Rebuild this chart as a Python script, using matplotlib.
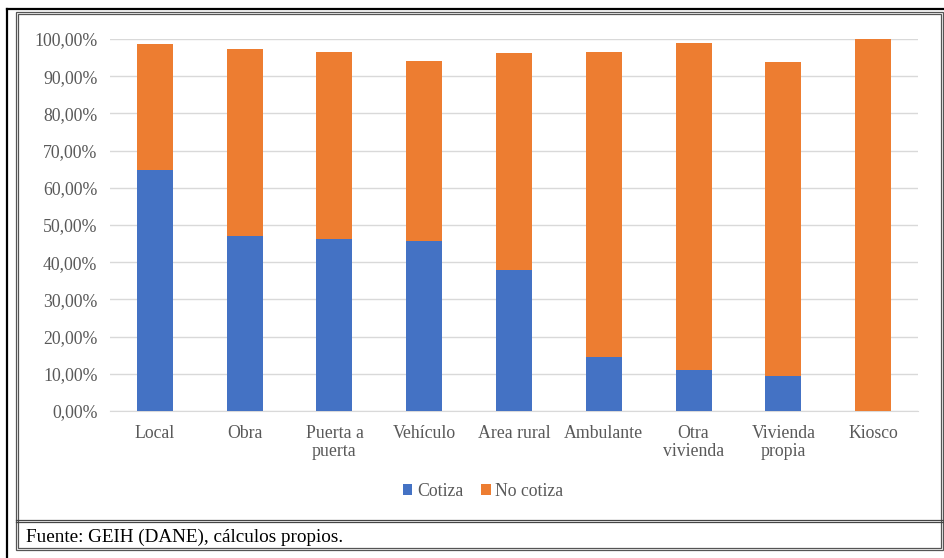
import matplotlib.pyplot as plt
from matplotlib.patches import Rectangle
from matplotlib.lines import Line2D
import numpy as np

categorias = ['Local', 'Obra', 'Puerta a\npuerta', 'Vehículo', 'Area rural',
              'Ambulante', 'Otra\nvivienda', 'Vivienda\npropia', 'Kiosco']
cotiza = [64.8, 47.0, 46.2, 45.7, 38.0, 14.5, 11.0, 9.4, 0.0]
no_cotiza = [33.9, 50.3, 50.4, 48.3, 58.2, 82.0, 87.9, 84.4, 100.0]

AZUL = '#4472C4'
NARANJA = '#ED7D31'
GRIS = '#595959'

plt.rcParams['font.family'] = ['Liberation Serif', 'DejaVu Serif']

W, H = 945, 558
fig = plt.figure(figsize=(W / 100, H / 100), dpi=100)

# marcos
def fx(x):
    return x / W

def fy(y):
    return 1 - y / H

fig.add_artist(Line2D([fx(7), fx(945)], [fy(9), fy(9)], color='black', lw=1.6))
fig.add_artist(Line2D([fx(7), fx(7)], [fy(9), fy(558)], color='black', lw=1.6))
for d in (0, 2):
    fig.add_artist(Rectangle((fx(16 + d), fy(550 - d)), fx(943 - 16 - 2 * d), (550 - 12 - 2 * d) / H,
                             fill=False, edgecolor='#555555', lw=0.9))
    fig.add_artist(Line2D([fx(16), fx(943)], [fy(520 + d), fy(520 + d)], color='#444444', lw=0.9))

ax = fig.add_axes([fx(110), fy(411), fx(918 - 110), (411 - 39) / H])
x = np.arange(len(categorias))
ax.bar(x, cotiza, 0.4, color=AZUL, label='Cotiza', zorder=3)
ax.bar(x, no_cotiza, 0.4, bottom=cotiza, color=NARANJA, label='No cotiza', zorder=3)

ax.set_xlim(-0.5, len(categorias) - 0.5)
ax.set_ylim(0, 100)
ax.set_yticks(np.arange(0, 101, 10))
ax.set_yticklabels([f'{v:.2f}%'.replace('.', ',') for v in np.arange(0, 101, 10)],
                   color=GRIS, fontsize=12.8)
ax.set_xticks(x)
ax.set_xticklabels(categorias, color=GRIS, fontsize=12.8, linespacing=1.1)
ax.tick_params(length=0, axis='both')
ax.tick_params(axis='x', pad=10)
ax.tick_params(axis='y', pad=9)
ax.grid(axis='y', color='#d9d9d9', lw=1, zorder=0)
for s in ['top', 'right', 'left']:
    ax.spines[s].set_visible(False)
ax.spines['bottom'].set_color('#d9d9d9')

leg = fig.legend(loc='center', bbox_to_anchor=(fx(483), fy(491)), ncol=2, frameon=False,
                 fontsize=12.8, handlelength=0.55, handleheight=0.55, handletextpad=0.25,
                 columnspacing=1.0)
for t in leg.get_texts():
    t.set_color(GRIS)

fig.text(fx(26), fy(537), 'Fuente: GEIH (DANE), cálculos propios.', fontsize=13.8,
         va='center', ha='left', color='black')

fig.savefig('out.png', dpi=100)
